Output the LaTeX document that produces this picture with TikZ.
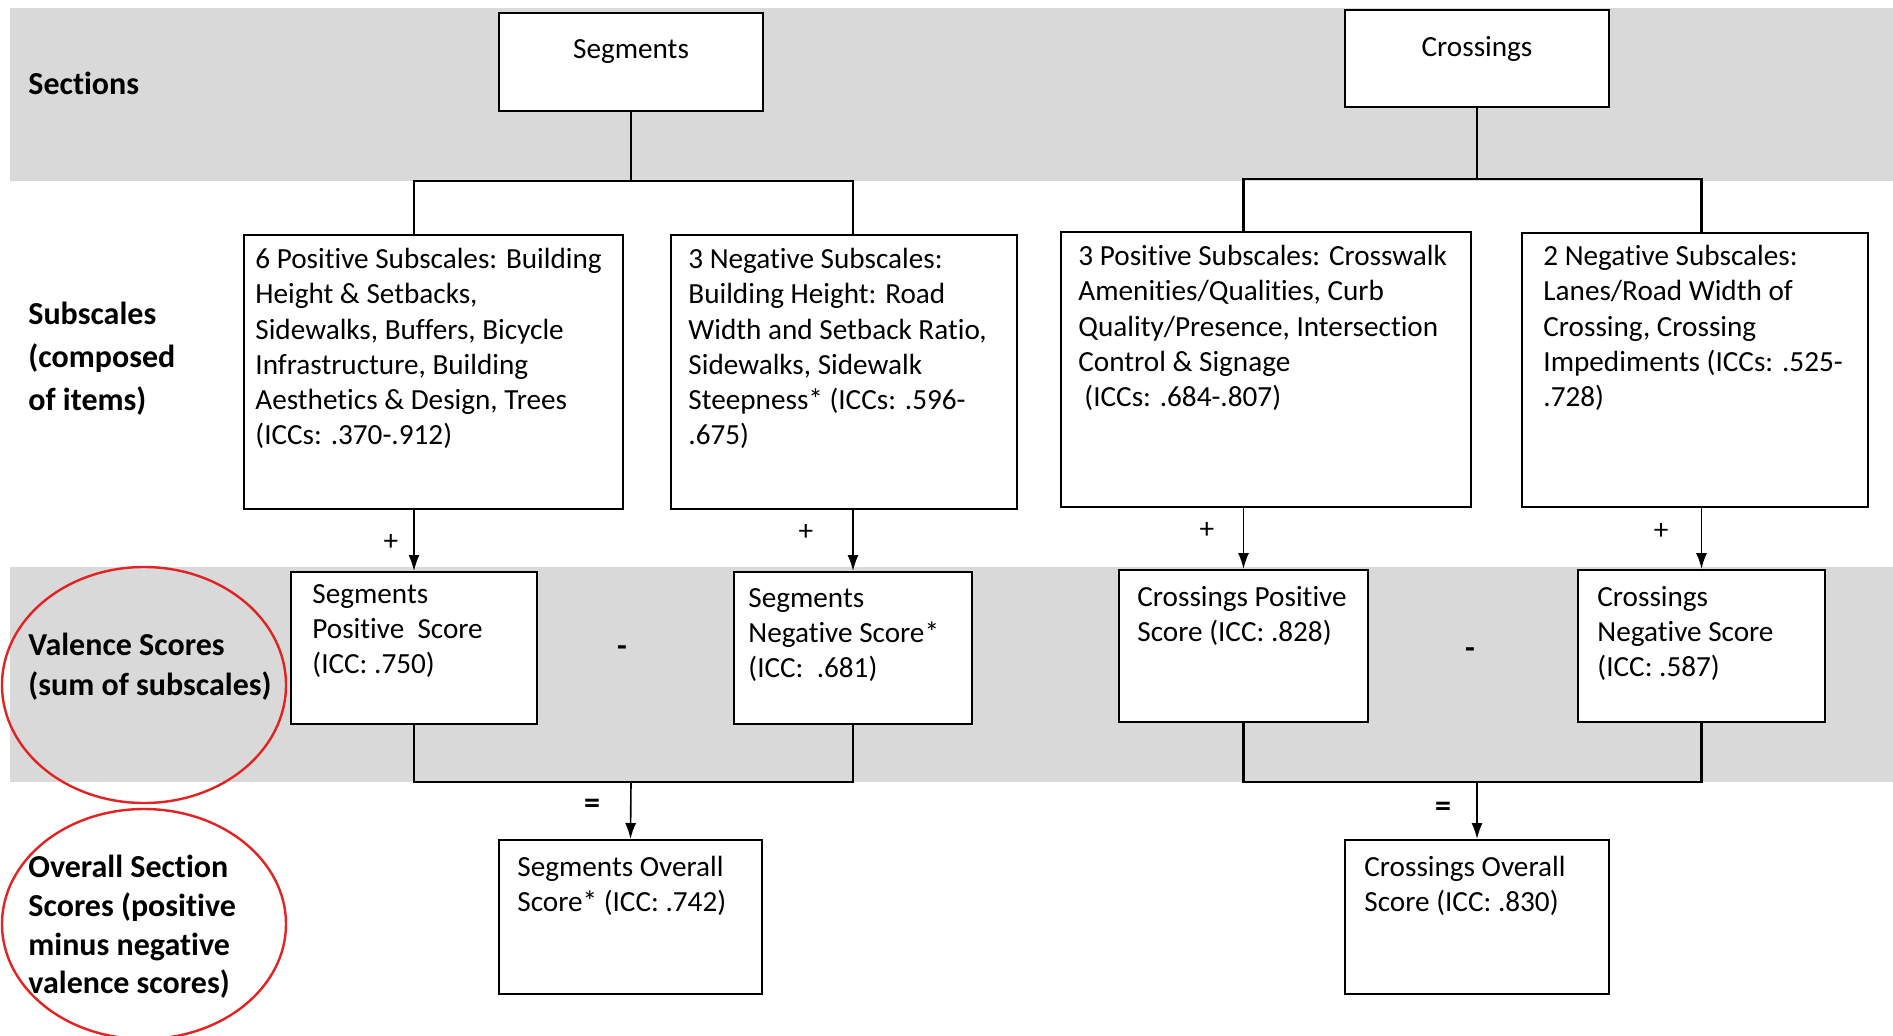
\documentclass[tikz,border=0pt]{standalone}
\usepackage{fontspec}
\setmainfont{Carlito}[Ligatures=NoCommon]
\usetikzlibrary{arrows.meta}
\definecolor{bandgray}{HTML}{D9D9D9}
\definecolor{ringred}{HTML}{E32322}

\begin{document}
\begin{tikzpicture}[x=0.5pt, y=-0.5pt,
  box/.style={draw, line width=1pt, fill=white, inner sep=0pt},
  txt/.style={font=\fontsize{14.6}{17.6}\selectfont, align=left, inner sep=0pt, anchor=north west},
  lab/.style={font=\fontsize{16}{20}\selectfont\bfseries, align=left, inner sep=0pt, anchor=north west},
  sign/.style={font=\fontsize{14.6}{17.6}\selectfont, inner sep=0pt},
  bsign/.style={font=\fontsize{16}{20}\selectfont\bfseries, inner sep=0pt},
  bar/.style={line width=1.1pt},
  arr/.style={line width=0.8pt, -{Latex[length=8pt, width=5.5pt]}},
  ring/.style={draw=ringred, line width=1.2pt}]
\useasboundingbox (0,0) rectangle (1893,1035);

% gray bands and red rings
\fill[bandgray] (10,8) rectangle (1893,181);
\fill[bandgray] (10,567) rectangle (1893,782);
\draw[ring] (144,685) ellipse [x radius=71pt, y radius=59pt];
\draw[ring] (144,924) ellipse [x radius=71pt, y radius=57.5pt];

% row labels
\node[lab, anchor=west] (lsec) at (28,83) {Sections};
\node[lab, font=\fontsize{16}{21.5}\selectfont\bfseries] (lsub) at (28,302) {Subscales\\(composed\\of items)};
\node[lab] (lval) at (28,633) {Valence Scores\\(sum of subscales)};
\node[lab, font=\fontsize{16}{19.3}\selectfont\bfseries] (lover) at (28,855) {Overall Section\\Scores (positive\\minus negative\\valence scores)};

% sections
\node[box, minimum width=132pt, minimum height=49pt] (seg) at (631,62) {};
\node[txt, anchor=north] (segt) at ([yshift=-13.5pt]seg.north) {Segments};
\node[box, minimum width=132pt, minimum height=48.5pt] (cro) at (1477,58.5) {};
\node[txt, anchor=north] (crot) at ([yshift=-13.75pt]cro.north) {Crossings};

% subscales
\node[box, minimum width=189.5pt, minimum height=137pt] (sp) at (433.5,372) {};
\node[txt] (spt) at ([shift={(12,14)}]sp.north west) {6 Positive Subscales: Building\\Height \& Setbacks,\\Sidewalks, Buffers, Bicycle\\Infrastructure, Building\\Aesthetics \& Design, Trees\\(ICCs: .370-.912)};
\node[box, minimum width=173pt, minimum height=137pt] (sn) at (844,372) {};
\node[txt] (snt) at ([shift={(18,14)}]sn.north west) {3 Negative Subscales:\\Building Height: Road\\Width and Setback Ratio,\\Sidewalks, Sidewalk\\Steepness* (ICCs: .596-\\.675)};
\node[box, minimum width=205pt, minimum height=137.5pt] (cp) at (1266,369.5) {};
\node[txt] (cpt) at ([shift={(18,14)}]cp.north west) {3 Positive Subscales: Crosswalk\\Amenities/Qualities, Curb\\Quality/Presence, Intersection\\Control \& Signage\\\hspace{3pt}(ICCs: .684-.807)};
\node[box, minimum width=173pt, minimum height=137pt] (cn) at (1695,370) {};
\node[txt] (cnt) at ([shift={(22,13)}]cn.north west) {2 Negative Subscales:\\Lanes/Road Width of\\Crossing, Crossing\\Impediments (ICCs: .525-\\.728)};

% valence scores
\node[box, minimum width=123pt, minimum height=76pt] (sps) at (414,648) {};
\node[txt] (spst) at ([shift={(22,13)}]sps.north west) {Segments\\Positive\ \ Score\\(ICC: .750)};
\node[box, minimum width=119pt, minimum height=76pt] (sns) at (853,648) {};
\node[txt] (snst) at ([shift={(15,17)}]sns.north west) {Segments\\Negative Score*\\(ICC:\ \ .681)};
\node[box, minimum width=124.5pt, minimum height=76pt] (cps) at (1243.5,646) {};
\node[txt] (cpst) at ([shift={(19,17)}]cps.north west) {Crossings Positive\\Score (ICC: .828)};
\node[box, minimum width=123.5pt, minimum height=76pt] (cns) at (1701.5,646) {};
\node[txt] (cnst) at ([shift={(20,17)}]cns.north west) {Crossings\\Negative Score\\(ICC: .587)};

% overall scores
\node[box, minimum width=131.5pt, minimum height=77pt] (so) at (630.5,917) {};
\node[txt] (sot) at ([shift={(19,17)}]so.north west) {Segments Overall\\Score* (ICC: .742)};
\node[box, minimum width=132pt, minimum height=77pt] (co) at (1477,917) {};
\node[txt] (cot) at ([shift={(20,17)}]co.north west) {Crossings Overall\\Score (ICC: .830)};

% tree from sections to subscales
\coordinate (segjoin) at (631,181);
\coordinate (crojoin) at (1477,179);
\draw[bar] (seg.south) -- (segjoin);
\draw[bar] (sp.north -| sps.north) |- (segjoin) -| (sn.north -| sns.north);
\draw[bar] (cro.south) -- (crojoin);
\draw[bar] (cp.north -| cps.north) |- (crojoin) -| (cn.north -| cns.north);

% subscales summed into valence scores
\draw[arr] (sp.south -| sps.north) -- (sps.north);
\draw[arr] (sn.south -| sns.north) -- (sns.north);
\draw[arr] (cp.south -| cps.north) -- (cps.north);
\draw[arr] (cn.south -| cns.north) -- (cns.north);
\node[sign] (plus1) at (391,542) {+};
\node[sign] (plus2) at (806,532) {+};
\node[sign] (plus3) at (1207,530) {+};
\node[sign] (plus4) at (1661,531) {+};

% positive minus negative
\coordinate (segsum) at (631,782);
\coordinate (crosum) at (1477,782);
\draw[bar] (sps.south) |- (segsum) -| (sns.south);
\draw[bar] (cps.south) |- (crosum) -| (cns.south);
\draw[arr] (segsum) -- (so.north);
\draw[arr] (crosum) -- (co.north);
\node[bsign] (minus1) at (622,651) {-};
\node[bsign] (minus2) at (1470,653) {-};
\node[bsign] (eq1) at (592,806) {=};
\node[bsign] (eq2) at (1443,809) {=};
\end{tikzpicture}
\end{document}
